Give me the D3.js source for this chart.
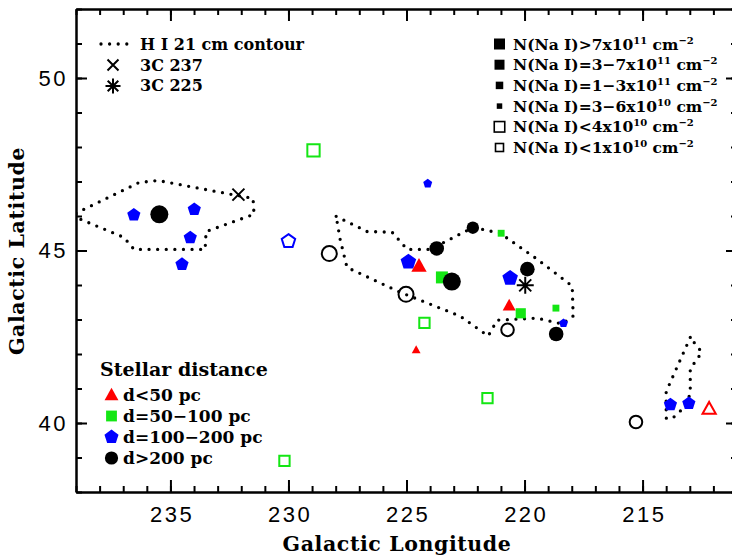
<!DOCTYPE html>
<html>
<head>
<meta charset="utf-8">
<script src="https://cdn.jsdelivr.net/npm/d3@7"></script>
<style>
  body { margin: 0; background: #fff; }
  svg { display: block; }
  .serif { font-family: "DejaVu Serif", serif; font-weight: bold; }
</style>
</head>
<body>
<div id="chart"></div>
<script>
// star sightlines: galactic longitude / latitude
var starL = [236.55, 235.47, 233.99, 234.16, 234.51, 230.0, 228.94, 230.17,
             224.10, 228.27, 223.72, 224.92, 224.47, 223.50, 223.08, 225.02,
             224.24, 224.59, 222.19, 220.99, 219.88, 220.61, 220.65, 220.16,
             218.67, 220.72, 218.35, 218.66, 221.57, 215.28, 213.82, 213.04, 212.18];
var starB = [46.03, 46.05, 46.19, 45.37, 44.60, 45.27, 47.90, 38.90,
             46.94, 44.91, 45.06, 44.67, 44.55, 44.22, 44.10, 43.73,
             42.90, 42.12, 45.66, 45.50, 44.46, 44.20, 43.40, 43.18,
             43.33, 42.70, 42.89, 42.58, 40.72, 40.03, 40.53, 40.57, 40.41];
// distance class: 0 d<50, 1 d=50-100, 2 d=100-200, 3 d>200
var starDist = [2, 3, 2, 2, 2, 2, 1, 1,
                2, 3, 3, 2, 0, 1, 3, 3,
                1, 0, 3, 1, 3, 2, 0, 1,
                1, 3, 2, 3, 1, 3, 2, 2, 0];
// N(Na I) class: 0 >7e11, 1 3-7e11, 2 1-3e11, 3 3-6e10, 4 <4e10, 5 <1e10
var starNa = [2, 0, 2, 2, 2, 5, 4, 5,
              3, 4, 1, 1, 1, 1, 0, 4,
              5, 3, 2, 3, 1, 1, 2, 2,
              3, 5, 3, 1, 5, 5, 2, 2, 5];

// H I 21 cm contours
var contourWest = [[239.0, 46.08], [236.33, 46.97], [235.53, 47.03], [233.07, 46.71], [231.5, 46.51],
                   [231.46, 46.05], [233.49, 45.55], [233.53, 45.03], [236.54, 45.03], [236.97, 45.38], [239.0, 45.96]];
var contourMid = [[227.98, 45.99], [226.67, 45.55], [225.61, 45.53], [224.97, 45.03], [224.0, 45.03],
                  [222.18, 45.67], [221.03, 45.50], [219.47, 44.75], [217.98, 43.97], [217.94, 43.10],
                  [218.41, 42.87], [219.47, 43.04], [221.16, 42.98], [221.54, 42.52], [222.73, 43.10],
                  [225.27, 43.79], [227.52, 44.51], [227.81, 45.32]];
var contourEast = [[212.98, 42.48], [214.0, 40.91], [214.0, 40.14], [213.76, 40.12], [213.27, 40.43],
                   [212.98, 40.84], [212.98, 41.57], [212.49, 42.05], [212.77, 42.29]];

// background radio sources
var src3C237 = [232.12, 46.62];
var src3C225 = [219.97, 43.99];

var xTicks = [235, 230, 225, 220, 215];
var yTicks = [40, 45, 50];

var distLabels = ["d<50 pc", "d=50\u2212100 pc", "d=100\u2212200 pc", "d>200 pc"];
var distColors = ["#ff0000", "#14e614", "#0000ff", "#000000"];
var distShapes = ["triangle", "square", "pentagon", "circle"];

var naPrefix = ["N(Na I)>7x10", "N(Na I)=3\u22127x10", "N(Na I)=1\u22123x10", "N(Na I)=3\u22126x10", "N(Na I)<4x10", "N(Na I)<1x10"];
var naExp = ["11", "11", "11", "10", "10", "10"];

function init() {
    var w = 732, h = 555;
    var left = 76, right = 737, top = 9, bottom = 492;

    var x = d3.scaleLinear().domain([239, 211]).range([left, right]);
    var y = d3.scaleLinear().domain([38, 52]).range([bottom, top]);

    var svg = d3.select("#chart").append("svg")
        .attr("width", w).attr("height", h);

    svg.append("clipPath").attr("id", "plot")
        .append("rect").attr("x", left).attr("y", top)
        .attr("width", right - left).attr("height", bottom - top);

    // marker radius by N(Na I) class
    var naRadius = [9, 7.3, 6.2, 4.2, 7.5, 6.3];
    var shapeFactor = { circle: 1, square: 0.82, triangle: 1.05, pentagon: 1.12 };

    function shapePath(shape, r) {
        var pts, i, a;
        if (shape === "circle") {
            return d3.symbol(d3.symbolCircle, Math.PI * r * r)();
        }
        if (shape === "square") {
            pts = [[-r, -r], [r, -r], [r, r], [-r, r]];
        } else if (shape === "triangle") {
            pts = [[0, -1.05 * r], [r, 0.75 * r], [-r, 0.75 * r]];
        } else {
            pts = [];
            for (i = 0; i < 5; i++) {
                a = -Math.PI / 2 + i * 2 * Math.PI / 5;
                pts.push([r * Math.cos(a), r * Math.sin(a)]);
            }
        }
        return "M" + pts.map(function (p) { return p[0].toFixed(2) + "," + p[1].toFixed(2); }).join("L") + "Z";
    }

    // contours
    var line = d3.line()
        .x(function (d) { return x(d[0]); })
        .y(function (d) { return y(d[1]); })
        .curve(d3.curveLinearClosed);

    svg.append("g").attr("clip-path", "url(#plot)")
        .selectAll("path.contour")
        .data([contourWest, contourMid, contourEast])
        .enter()
        .append("path")
        .attr("class", "contour")
        .attr("d", line)
        .attr("fill", "none")
        .attr("stroke", "#000")
        .attr("stroke-width", 3.3)
        .attr("stroke-linecap", "round")
        .attr("stroke-dasharray", "0 8.6");

    // stars
    svg.append("g").selectAll("path.star")
        .data(d3.range(starL.length))
        .enter()
        .append("path")
        .attr("class", "star")
        .attr("transform", function (i) { return "translate(" + x(starL[i]) + "," + y(starB[i]) + ")"; })
        .attr("d", function (i) {
            var s = distShapes[starDist[i]];
            return shapePath(s, naRadius[starNa[i]] * shapeFactor[s]);
        })
        .attr("fill", function (i) { return starNa[i] >= 4 ? "none" : distColors[starDist[i]]; })
        .attr("stroke", function (i) { return starNa[i] >= 4 ? distColors[starDist[i]] : "none"; })
        .attr("stroke-width", 2);

    // 3C 237 cross and 3C 225 asterisk
    function crossPath(r) {
        return "M" + (-r) + "," + (-r) + "L" + r + "," + r + "M" + (-r) + "," + r + "L" + r + "," + (-r);
    }
    function asteriskPath(r) {
        var d = "";
        for (var k = 0; k < 4; k++) {
            var a = k * Math.PI / 4;
            d += "M" + (r * Math.cos(a)).toFixed(2) + "," + (r * Math.sin(a)).toFixed(2) +
                 "L" + (-r * Math.cos(a)).toFixed(2) + "," + (-r * Math.sin(a)).toFixed(2);
        }
        return d;
    }
    svg.append("path")
        .attr("transform", "translate(" + x(src3C237[0]) + "," + y(src3C237[1]) + ")")
        .attr("d", crossPath(6)).attr("stroke", "#000").attr("stroke-width", 2).attr("fill", "none");
    svg.append("path")
        .attr("transform", "translate(" + x(src3C225[0]) + "," + y(src3C225[1]) + ")")
        .attr("d", asteriskPath(8.5)).attr("stroke", "#000").attr("stroke-width", 2).attr("fill", "none");

    // axes: ticks on all four sides, pointing inward
    function styleAxis(g) {
        g.select(".domain").attr("stroke", "#000").attr("stroke-width", 2);
        g.selectAll(".tick line").attr("stroke", "#000").attr("stroke-width", 2);
        g.selectAll(".tick text")
            .attr("fill", "#000")
            .style("font-family", "'Liberation Sans', Arial, sans-serif")
            .style("font-size", "22px")
            .style("letter-spacing", "2.5px");
    }
    var xMinor = d3.range(211, 240);
    var yMinor = d3.range(38, 53);

    svg.append("g").attr("transform", "translate(0," + bottom + ")")
        .call(d3.axisBottom(x).tickValues(xMinor).tickSize(-6).tickFormat("").tickSizeOuter(0)).call(styleAxis);
    svg.append("g").attr("transform", "translate(0," + bottom + ")")
        .call(d3.axisBottom(x).tickValues(xTicks).tickSize(-12).tickPadding(14).tickSizeOuter(0)).call(styleAxis)
        .selectAll(".tick text").attr("dx", "1.2px");
    svg.append("g").attr("transform", "translate(0," + top + ")")
        .call(d3.axisTop(x).tickValues(xMinor).tickSize(-6).tickFormat("").tickSizeOuter(0)).call(styleAxis);
    svg.append("g").attr("transform", "translate(0," + top + ")")
        .call(d3.axisTop(x).tickValues(xTicks).tickSize(-12).tickFormat("").tickSizeOuter(0)).call(styleAxis);

    svg.append("g").attr("transform", "translate(" + left + ",0)")
        .call(d3.axisLeft(y).tickValues(yMinor).tickSize(-6).tickFormat("").tickSizeOuter(0)).call(styleAxis);
    svg.append("g").attr("transform", "translate(" + left + ",0)")
        .call(d3.axisLeft(y).tickValues(yTicks).tickSize(-11).tickPadding(8).tickSizeOuter(0)).call(styleAxis);
    svg.append("g").attr("transform", "translate(" + right + ",0)")
        .call(d3.axisRight(y).tickValues(yMinor).tickSize(-6).tickFormat("").tickSizeOuter(0)).call(styleAxis);
    svg.append("g").attr("transform", "translate(" + right + ",0)")
        .call(d3.axisRight(y).tickValues(yTicks).tickSize(-11).tickFormat("").tickSizeOuter(0)).call(styleAxis);

    // axis titles
    svg.append("text").attr("class", "serif")
        .attr("x", 397).attr("y", 551)
        .attr("text-anchor", "middle")
        .style("font-size", "20.5px").style("letter-spacing", "0.6px")
        .text("Galactic Longitude");
    svg.append("text").attr("class", "serif")
        .attr("transform", "translate(24,251) rotate(-90)")
        .attr("text-anchor", "middle")
        .style("font-size", "20.5px").style("letter-spacing", "0.6px")
        .text("Galactic Latitude");

    // legend: contour and radio sources (top left)
    svg.append("line")
        .attr("x1", 101).attr("x2", 128).attr("y1", 44).attr("y2", 44)
        .attr("stroke", "#000").attr("stroke-width", 3.3)
        .attr("stroke-linecap", "round").attr("stroke-dasharray", "0 8.6");
    svg.append("path").attr("transform", "translate(113,65)")
        .attr("d", crossPath(5.5)).attr("stroke", "#000").attr("stroke-width", 2);
    svg.append("path").attr("transform", "translate(113,86)")
        .attr("d", asteriskPath(7.5)).attr("stroke", "#000").attr("stroke-width", 2);
    var tl = svg.append("g").attr("class", "serif").style("font-size", "16px");
    tl.append("text").attr("x", 140).attr("y", 49.5).text("H I 21 cm contour");
    tl.append("text").attr("x", 140).attr("y", 70.5).text("3C 237");
    tl.append("text").attr("x", 140).attr("y", 91).text("3C 225");

    // legend: N(Na I) column density (top right)
    var naLegendSize = [11, 10, 7.5, 5.5, 10.5, 8];
    var naRow = svg.append("g").selectAll("g")
        .data(d3.range(naPrefix.length))
        .enter()
        .append("g")
        .attr("transform", function (i) { return "translate(0," + (44 + i * 20.7) + ")"; });
    naRow.append("rect")
        .attr("x", function (i) { return 499.5 - naLegendSize[i] / 2; })
        .attr("y", function (i) { return -naLegendSize[i] / 2; })
        .attr("width", function (i) { return naLegendSize[i]; })
        .attr("height", function (i) { return naLegendSize[i]; })
        .attr("fill", function (i) { return i >= 4 ? "none" : "#000"; })
        .attr("stroke", function (i) { return i >= 4 ? "#000" : "none"; })
        .attr("stroke-width", 1.6);
    var naText = naRow.append("text").attr("class", "serif")
        .attr("x", 513).attr("y", 5.5)
        .style("font-size", "15.5px");
    naText.append("tspan").text(function (i) { return naPrefix[i]; });
    naText.append("tspan").attr("dy", -6).style("font-size", "10px").text(function (i) { return naExp[i]; });
    naText.append("tspan").attr("dy", 6).text(" cm");
    naText.append("tspan").attr("dy", -6).style("font-size", "10px").text("\u22122");

    // legend: stellar distance (bottom left)
    svg.append("text").attr("class", "serif")
        .attr("x", 100).attr("y", 376)
        .style("font-size", "19px")
        .text("Stellar distance");
    var distRow = svg.append("g").selectAll("g")
        .data(d3.range(distLabels.length))
        .enter()
        .append("g")
        .attr("transform", function (i) { return "translate(0," + (395 + i * 21) + ")"; });
    distRow.append("path")
        .attr("transform", "translate(111.5,0)")
        .attr("d", function (i) {
            var s = distShapes[i];
            return shapePath(s, 6.6 * shapeFactor[s]);
        })
        .attr("fill", function (i) { return distColors[i]; });
    distRow.append("text").attr("class", "serif")
        .attr("x", 123).attr("y", 6)
        .style("font-size", "17px")
        .text(function (i) { return distLabels[i]; });
}

window.onload = init;
</script>
</body>
</html>
